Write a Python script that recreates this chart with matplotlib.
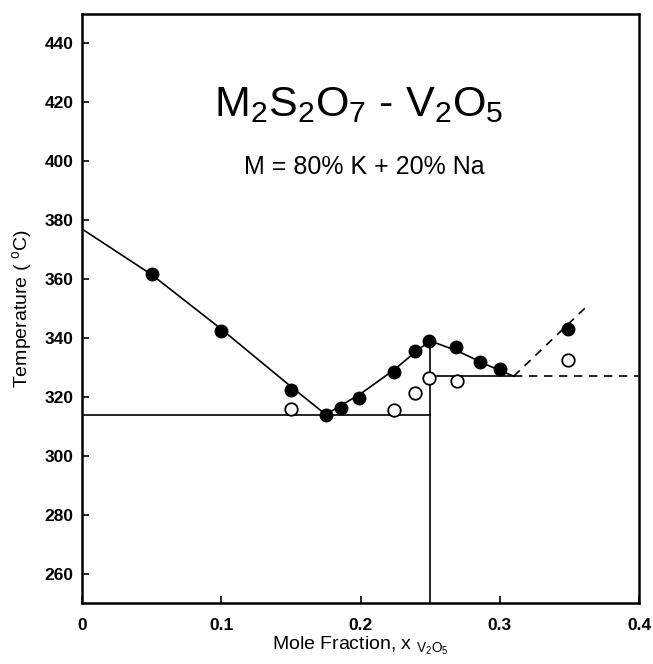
import numpy as np
import matplotlib
matplotlib.use("Agg")
import matplotlib.pyplot as plt

plt.rcParams['font.family'] = ['Liberation Sans', 'DejaVu Sans']
plt.rcParams['mathtext.default'] = 'regular'

# ── measured points ──
filled_x = [0.05, 0.10, 0.15, 0.175, 0.186, 0.199, 0.224, 0.239, 0.249, 0.2685, 0.286, 0.300, 0.349]
filled_t = [361.6, 342.4, 322.4, 314.0, 316.3, 319.5, 328.5, 335.7, 338.9, 336.8, 331.9, 329.6, 343.0]

open_x = [0.15, 0.224, 0.239, 0.249, 0.269, 0.349]
open_t = [316.0, 315.4, 321.3, 326.4, 325.3, 332.5]

# ── liquidus / solidus lines ──
liq_left_x = [0.0, 0.05, 0.10, 0.15, 0.175]
liq_left_t = [377.0, 361.5, 343.0, 323.5, 314.0]
liq_mid_x = [0.175, 0.20, 0.225, 0.24, 0.25]
liq_mid_t = [314.0, 321.0, 329.5, 335.5, 339.0]
liq_right_x = [0.25, 0.27, 0.29, 0.31]
liq_right_t = [339.0, 335.5, 331.0, 327.0]
dash_up_x = [0.31, 0.362]
dash_up_t = [327.0, 350.5]

eutectic_t = 314.0
peritectic_t = 327.0
compound_x = 0.25

fig = plt.figure(figsize=(6.53, 6.64), dpi=100)
ax = fig.add_axes([0.1256, 0.0919, 0.853, 0.887])

lw = 1.2
ax.plot(liq_left_x, liq_left_t, color='black', lw=lw)
ax.plot(liq_mid_x, liq_mid_t, color='black', lw=lw)
ax.plot(liq_right_x, liq_right_t, color='black', lw=lw)
ax.plot(dash_up_x, dash_up_t, color='black', lw=lw, ls=(0, (5, 4)))

# horizontal invariant lines
ax.plot([0.0, compound_x], [eutectic_t, eutectic_t], color='black', lw=lw)
ax.plot([compound_x, 0.31], [peritectic_t, peritectic_t], color='black', lw=lw)
ax.plot([0.31, 0.4], [peritectic_t, peritectic_t], color='black', lw=lw, ls=(0, (5, 4)))
ax.plot([compound_x, compound_x], [250, 339.0], color='black', lw=lw)

ax.plot(filled_x, filled_t, 'o', color='black', ms=9, zorder=5)
ax.plot(open_x, open_t, 'o', mfc='white', mec='black', mew=1.3, ms=9, zorder=5)

ax.set_xlim(0, 0.4)
ax.set_ylim(250, 450)
ax.set_xticks([0, 0.1, 0.2, 0.3, 0.4])
ax.set_xticklabels(['0', '0.1', '0.2', '0.3', '0.4'])
ax.set_yticks(np.arange(260, 441, 20))
ax.tick_params(direction='in', length=5, width=1.2, labelsize=12.5, pad=6)
ax.tick_params(axis='x', pad=11)
for lab in ax.get_xticklabels() + ax.get_yticklabels():
    lab.set_fontweight('bold')
for sp in ax.spines.values():
    sp.set_linewidth(1.8)

ax.set_ylabel('Temperature ( $^{o}$C)', fontsize=14, labelpad=8)
ax.set_xlabel('Mole Fraction, x $_{V_2O_5}$', fontsize=14, labelpad=1)

ax.text(0.199, 419, 'M$_2$S$_2$O$_7$ - V$_2$O$_5$', fontsize=31,
        ha='center', va='center')
ax.text(0.203, 398, 'M = 80% K + 20% Na', fontsize=18,
        ha='center', va='center')

plt.savefig('out.png', dpi=100)
